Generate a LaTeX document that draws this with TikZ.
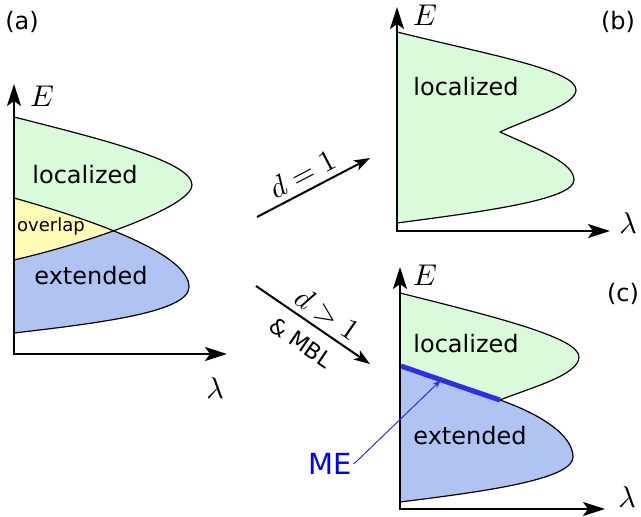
\documentclass[tikz,border=0pt]{standalone}
\usepackage{graphicx}
\usepackage{fontspec}
\setmainfont{DejaVu Sans}
\usetikzlibrary{arrows.meta}
\definecolor{locgreen}{RGB}{218,251,218}
\definecolor{extblue}{RGB}{176,196,244}
\definecolor{ovyellow}{RGB}{255,250,180}
\definecolor{meblue}{RGB}{45,45,235}
\newcommand\mathlbl[1]{\scalebox{3}{\fontsize{10}{12}\selectfont$#1$}}
\def\GreenA{(14,117) .. controls (105,140) and (192,162) .. (192,185) .. controls (192,205) and (100,240) .. (14,260) -- cycle}
\def\BlueA{(14,198) .. controls (100,222) and (189,255) .. (189,287) .. controls (189,312) and (100,323) .. (14,333) -- cycle}
\def\GreenB{(397,32) .. controls (490,55) and (576,70) .. (576,90) .. controls (576,105) and (530,118) .. (500,132) .. controls (540,150) and (574,163) .. (574,180) .. controls (574,200) and (480,212) .. (397,223) -- cycle}
\def\GreenC{(400,293) .. controls (500,318) and (579,338) .. (579,357) .. controls (579,375) and (530,388) .. (500,400) .. controls (467,389) and (433,377) .. (400,366) -- cycle}
\def\BlueC{(400,366) .. controls (433,377) and (467,389) .. (500,400) .. controls (540,414) and (573,435) .. (573,457) .. controls (573,480) and (480,492) .. (400,502) -- cycle}
\begin{document}
\begin{tikzpicture}[x=1pt,y=-1pt,
  axis/.style={line width=2pt, arrows={Stealth[length=22pt,width=14pt,inset=5pt]-Stealth[length=22pt,width=14pt,inset=5pt]}},
  outline/.style={line width=1.2pt, line join=round},
  trans/.style={line width=2pt, arrows={-Stealth[length=16pt,width=11pt,inset=4pt]}},
  lbl/.style={font=\fontsize{24}{28}\selectfont, inner sep=0pt},
  mlbl/.style={inner sep=0pt},
  mearrow/.style={meblue, line width=1pt, arrows={-Stealth[length=9pt,width=6pt]}},
  meline/.style={meblue, line width=5pt}]
\useasboundingbox (0,0) rectangle (641,517);
% fills
\fill[locgreen] \GreenA;
\fill[extblue] \BlueA;
\begin{scope}
  \clip \GreenA;
  \fill[ovyellow] \BlueA;
\end{scope}
\fill[locgreen] \GreenB;
\fill[locgreen] \GreenC;
\fill[extblue] \BlueC;
% outlines
\draw[outline] \GreenA;
\draw[outline] \BlueA;
\draw[outline] \GreenB;
\draw[outline] \GreenC;
\draw[outline] \BlueC;
% mobility edge
\coordinate (me1) at (401,366);
\coordinate (me2) at (500,400);
\draw[meline] (me1) .. controls (433,377) and (467,389) .. (me2);
% axes
\coordinate (aO) at (14,354); \coordinate (aY) at (14,84); \coordinate (aX) at (227,354);
\coordinate (bO) at (397,231); \coordinate (bY) at (397,7); \coordinate (bX) at (610,231);
\coordinate (cO) at (400,509); \coordinate (cY) at (400,267); \coordinate (cX) at (605,509);
\draw[axis] (aY) -- (aO) -- (aX);
\draw[axis] (bY) -- (bO) -- (bX);
\draw[axis] (cY) -- (cO) -- (cX);
% labels
\node[lbl] (la) at (22,22) {(a)};
\node[lbl] (lb) at (618,22) {(b)};
\node[lbl] (lc) at (623,294) {(c)};
\node[lbl] (locA) at (85,175) {localized};
\node[lbl, font=\fontsize{18}{20}\selectfont] (ovA) at (51,227) {overlap};
\node[lbl] (extA) at (91,276) {extended};
\node[lbl] (locB) at (466,87) {localized};
\node[lbl] (locC) at (466,344) {localized};
\node[lbl] (extC) at (470,436) {extended};
\node[mlbl] (EA) at (42,96) {\mathlbl{E}};
\node[mlbl] (LA) at (215,388) {\mathlbl{\lambda}};
\node[mlbl] (EB) at (425,15) {\mathlbl{E}};
\node[mlbl] (LB) at (628,223) {\mathlbl{\lambda}};
\node[mlbl] (EC) at (425,275) {\mathlbl{E}};
\node[mlbl] (LC) at (627,497) {\mathlbl{\lambda}};
% transitions
\coordinate (t1s) at (257,217); \coordinate (t1e) at (370,158);
\coordinate (t2s) at (256,286); \coordinate (t2e) at (370,364);
\draw[trans] (t1s) -- node[mlbl, sloped, above=6pt, pos=0.47] (d1) {\mathlbl{d=1}} (t1e);
\draw[trans] (t2s) -- node[mlbl, sloped, above=5pt, pos=0.54] (d2) {\mathlbl{d>1}}
   node[lbl, font=\fontsize{22}{26}\selectfont, sloped, below=12pt, pos=0.5] (mbl) {\& MBL} (t2e);
% ME label
\node[font=\fontsize{29}{32}\selectfont, text=blue, inner sep=2pt] (me) at (330,464) {ME};
\coordinate (mept) at (441,380);
\draw[mearrow] (me.east) -- (mept);
\end{tikzpicture}
\end{document}
